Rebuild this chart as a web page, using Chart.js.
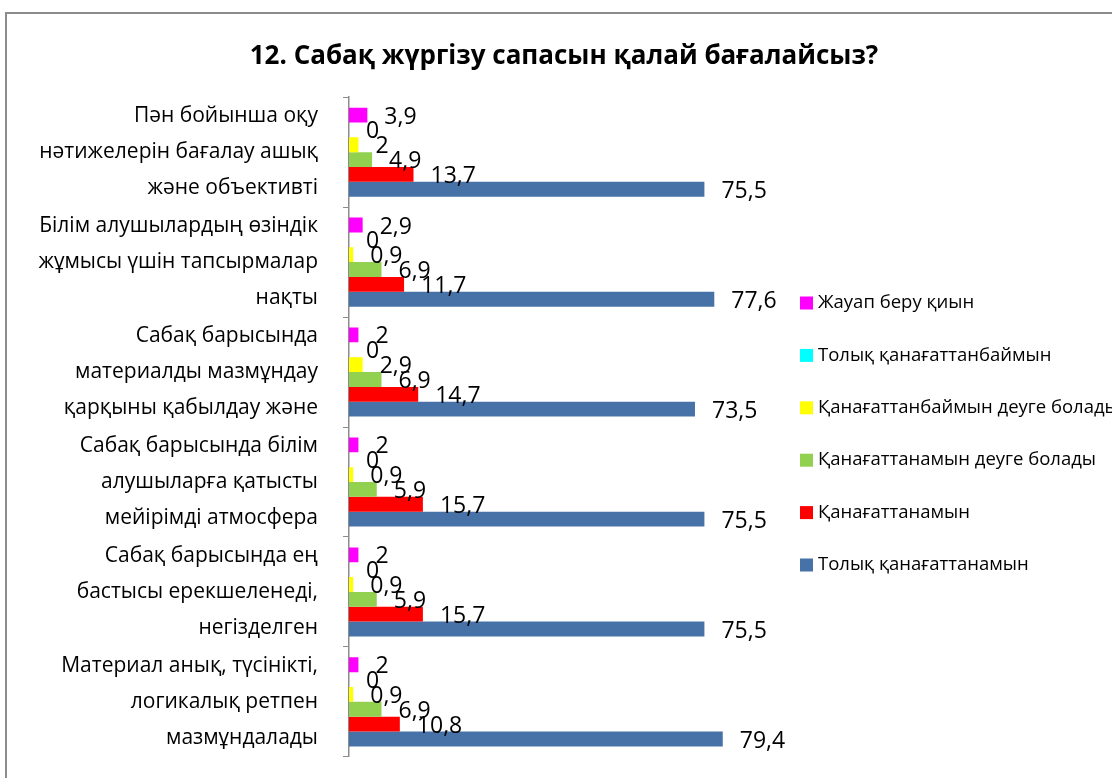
<!DOCTYPE html>
<html>
<head>
<meta charset="utf-8">
<script src="https://cdn.jsdelivr.net/npm/chart.js@4.4.1/dist/chart.umd.min.js"></script>
<style>
  html, body { margin: 0; padding: 0; background: #fff; overflow: hidden; }
  #frame {
    position: absolute; left: 5px; top: 12px;
    width: 1200px; height: 840px;
    border: 2px solid #8c8c8c; background: #fff;
  }
  #wrap { position: absolute; left: 0; top: 0; width: 1114px; height: 822px; }
</style>
</head>
<body>
<div id="frame">
  <div id="wrap"><canvas id="chart"></canvas></div>
</div>
<script>
// Data
const title = '12. Сабақ жүргізу сапасын қалай бағалайсыз?';

const categories = [
  ['Пән бойынша оқу', 'нәтижелерін бағалау ашық', 'және объективті'],
  ['Білім алушылардың өзіндік', 'жұмысы үшін тапсырмалар', 'нақты'],
  ['Сабақ барысында', 'материалды мазмұндау', 'қарқыны қабылдау және'],
  ['Сабақ барысында білім', 'алушыларға қатысты', 'мейірімді атмосфера'],
  ['Сабақ барысында ең', 'бастысы ерекшеленеді,', 'негізделген'],
  ['Материал анық, түсінікті,', 'логикалық ретпен', 'мазмұндалады']
];

const seriesNames = [
  'Жауап беру қиын',
  'Толық қанағаттанбаймын',
  'Қанағаттанбаймын деуге болады',
  'Қанағаттанамын деуге болады',
  'Қанағаттанамын',
  'Толық қанағаттанамын'
];

const hardToSay       = [3.9, 2.9, 2, 2, 2, 2];
const fullyNot        = [0, 0, 0, 0, 0, 0];
const ratherNot       = [2, 0.9, 2.9, 0.9, 0.9, 0.9];
const ratherSatisfied = [4.9, 6.9, 6.9, 5.9, 5.9, 6.9];
const satisfied       = [13.7, 11.7, 14.7, 15.7, 15.7, 10.8];
const fullySatisfied  = [75.5, 77.6, 73.5, 75.5, 75.5, 79.4];

const seriesValues = [hardToSay, fullyNot, ratherNot, ratherSatisfied, satisfied, fullySatisfied];
const seriesColors = ['#ff00ff', '#00ffff', '#ffff00', '#92d050', '#ff0000', '#4672a7'];

const FONT = "'Open Sans', 'Noto Sans', sans-serif";

// value labels to the right of each bar, comma as decimal mark
const valueLabels = {
  id: 'valueLabels',
  afterDatasetsDraw(chart) {
    const ctx = chart.ctx;
    ctx.save();
    ctx.font = `23px ${FONT}`;
    ctx.fillStyle = '#000';
    ctx.textAlign = 'left';
    ctx.textBaseline = 'middle';
    chart.data.datasets.forEach((ds, i) => {
      const meta = chart.getDatasetMeta(i);
      meta.data.forEach((bar, j) => {
        const txt = String(ds.data[j]).replace('.', ',');
        ctx.fillText(txt, bar.x + 17, bar.y + 2);
      });
    });
    ctx.restore();
  }
};

// legend column sitting in the empty right part of the plot
const sideLegend = {
  id: 'sideLegend',
  afterDraw(chart) {
    const ctx = chart.ctx;
    const x = 793, y0 = 289, step = 52.4, box = 13;
    ctx.save();
    ctx.font = `18.5px ${FONT}`;
    ctx.textAlign = 'left';
    ctx.textBaseline = 'middle';
    chart.data.datasets.forEach((ds, i) => {
      const y = y0 + i * step;
      ctx.fillStyle = ds.backgroundColor;
      ctx.fillRect(x, y - box / 2, box, box);
      ctx.fillStyle = '#000';
      ctx.fillText(ds.label, x + box + 5, y);
    });
    ctx.restore();
  }
};

new Chart(document.getElementById('chart'), {
  type: 'bar',
  data: {
    labels: categories,
    datasets: seriesNames.map((name, i) => ({
      label: name,
      data: seriesValues[i],
      backgroundColor: seriesColors[i],
      borderWidth: 0,
      categoryPercentage: 0.81,
      barPercentage: 1
    }))
  },
  options: {
    indexAxis: 'y',
    responsive: true,
    maintainAspectRatio: false,
    animation: false,
    layout: { padding: 0 },
    plugins: {
      title: {
        display: true,
        text: title,
        color: '#000',
        font: { family: FONT, size: 26, weight: 'bold' },
        padding: { top: 27, bottom: 25 }
      },
      legend: { display: false },
      tooltip: { enabled: false }
    },
    scales: {
      // hidden value axis; wide range leaves the right side free for the legend
      x: {
        display: false,
        min: 0,
        max: 164
      },
      y: {
        afterFit(scale) { scale.width = 342; },
        grid: {
          drawOnChartArea: false,
          drawTicks: true,
          tickLength: 6,
          color: '#8c8c8c'
        },
        border: { color: '#8c8c8c', width: 1.5 },
        ticks: {
          color: '#000',
          padding: 25,
          font: { family: FONT, size: 21, lineHeight: 1.72 }
        }
      }
    }
  },
  plugins: [valueLabels, sideLegend]
});
</script>
</body>
</html>
